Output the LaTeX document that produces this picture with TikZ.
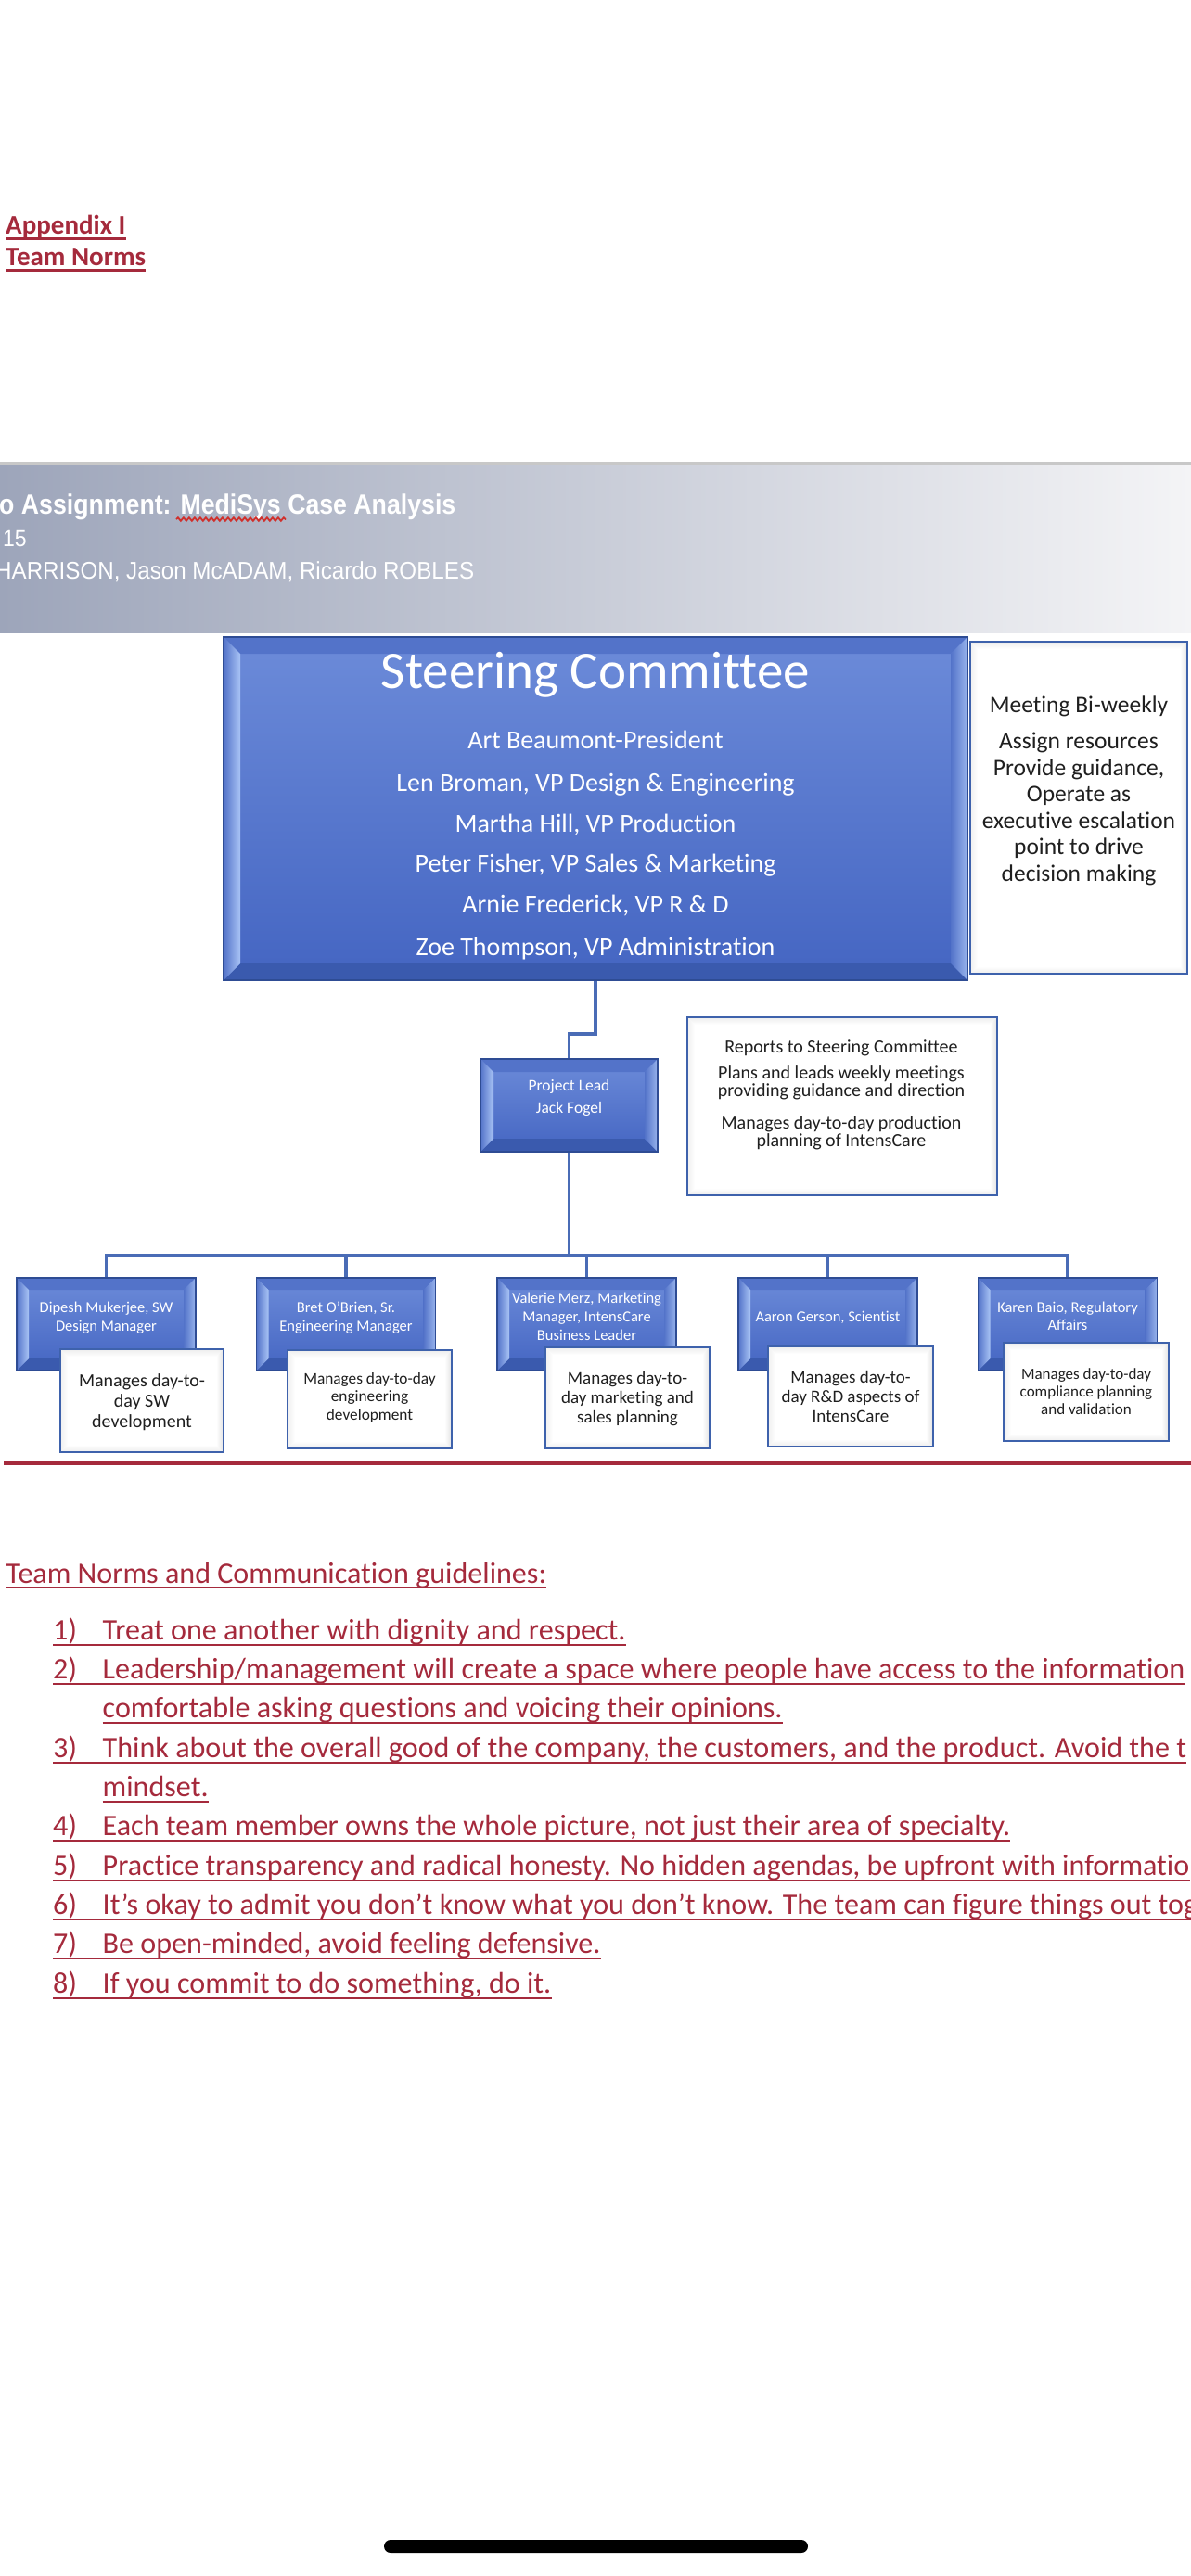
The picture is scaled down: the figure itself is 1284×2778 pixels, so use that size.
\documentclass[tikz,border=0pt]{standalone}
\usepackage{fontspec}
\setmainfont{Carlito}[Ligatures={TeX,NoCommon}]
\newfontfamily\arialf{Liberation Sans}[Ligatures={TeX,NoCommon}]
\usepackage{graphicx}
\usetikzlibrary{calc,decorations.pathmorphing}

\definecolor{dred}{HTML}{A52A3C}
\definecolor{btop}{HTML}{6C8BD9}
\definecolor{bbot}{HTML}{4465C2}
\definecolor{bdark}{HTML}{2E4C94}
\definecolor{bband}{HTML}{5373C9}
\definecolor{bbottom}{HTML}{3A5AAE}
\definecolor{bhigh}{HTML}{A9C4F5}
\definecolor{connc}{HTML}{4A6CB6}
\definecolor{wbord}{HTML}{3E62AC}
\definecolor{banl}{HTML}{9DA5BA}
\definecolor{banr}{HTML}{F4F4F6}
\definecolor{banline}{HTML}{C8C8C8}
\definecolor{wavy}{HTML}{D0302C}

\newcommand\fs[1]{\fontsize{#1pt}{#1pt}\selectfont}
\newcommand\bandpts[1]{%
  \coordinate (@nw) at (path picture bounding box.north west);
  \coordinate (@ne) at (path picture bounding box.north east);
  \coordinate (@sw) at (path picture bounding box.south west);
  \coordinate (@se) at (path picture bounding box.south east);
  \coordinate (@inw) at ($(@nw)+(#1pt,-#1pt)$);
  \coordinate (@ine) at ($(@ne)+(-#1pt,-#1pt)$);
  \coordinate (@isw) at ($(@sw)+(#1pt,#1pt)$);
  \coordinate (@ise) at ($(@se)+(-#1pt,#1pt)$);}
\newcommand\tlines[4]{\foreach \ty/\tx in {#4}{\node[anchor=base, inner sep=0pt, #2] (#1\ty) at (#3,\ty) {\tx};}}
\newcommand\normitem[4]{%
  \node[ltext] (num#1) at (57,#2) {#3};
  \node[ltext] (itm#1) at (110.5,#2) {#4};
  \draw[uline] ($(num#1.base west)+(0,6)$) -- ($(itm#1.base east)+(0,6)$);}
\newcommand\contline[3]{%
  \node[ltext] (itm#1) at (110.5,#2) {#3};
  \draw[uline] ($(itm#1.base west)+(0,6)$) -- ($(itm#1.base east)+(0,6)$);}

\tikzset{
  bevel/.style={rectangle, draw=bdark, line width=1.2pt, top color=btop, bottom color=bbot, inner sep=0pt,
    path picture={\bandpts{#1}
      \fill[bband] (@nw) -- (@ne) -- (@ine) -- (@inw) -- cycle;
      \fill[bbottom] (@sw) -- (@se) -- (@ise) -- (@isw) -- cycle;
      \shade[left color=bband, right color=bhigh] (@nw) -- (@inw) -- (@isw) -- (@sw) -- cycle;
      \shade[left color=bband, right color=bhigh!80!bband] (@ne) -- (@ine) -- (@ise) -- (@se) -- cycle;
    }},
  bevel/.default=13,
  wbox/.style={rectangle, draw=wbord, line width=2.2pt, fill=white, inner sep=0pt,
    path picture={\bandpts{#1}
      \shade[top color=gray!14, bottom color=white] (@nw) -- (@ne) -- (@ine) -- (@inw) -- cycle;
      \shade[top color=white, bottom color=gray!14] (@sw) -- (@se) -- (@ise) -- (@isw) -- cycle;
      \shade[left color=gray!12, right color=white] (@nw) -- (@inw) -- (@isw) -- (@sw) -- cycle;
      \shade[left color=white, right color=gray!22] (@ne) -- (@ine) -- (@ise) -- (@se) -- cycle;
    }},
  wbox/.default=8,
  conn/.style={draw=connc, line width=3.2pt},
  uline/.style={draw=dred, line width=2.6pt},
  wtxt/.style={text=white},
  btxt/.style={text=black!88},
  ltext/.style={anchor=base west, inner sep=0pt, text=dred, font=\fs{32.1}}
}

\begin{document}
\begin{tikzpicture}[x=1pt,y=-1pt]
\useasboundingbox (0,0) rectangle (1284,2778);
\clip (0,0) rectangle (1284,2778);
\fill[white] (0,0) rectangle (1284,2778);

% Appendix heading
\node[anchor=base west, inner sep=0pt, text=dred, font=\bfseries\fs{29}] (app) at (6,252) {Appendix I};
\draw[uline, line width=3pt] ($(app.base west)+(0,5)$) -- ($(app.base east)+(0,5)$);
\node[anchor=base west, inner sep=0pt, text=dred, font=\bfseries\fs{29}] (tnorm) at (6,286) {Team Norms};
\draw[uline, line width=3pt] ($(tnorm.base west)+(0,5)$) -- ($(tnorm.base east)+(0,5)$);

% banner
\fill[banline] (0,498) rectangle (1284,502);
\shade[left color=banl, right color=banr] (0,502) rectangle (1284,682);
\node[anchor=base west, inner sep=0pt, text=white, font=\arialf\bfseries\fs{30}] (btitle) at (-1,554) {\scalebox{0.89}[1]{o Assignment: MediSys Case Analysis}};
\draw[wavy, line width=1.8pt, decorate, decoration={snake, amplitude=1.8pt, segment length=6pt}] (190,560) -- (308,560);
\node[anchor=base west, inner sep=0pt, text=white, font=\arialf\fs{25}] (bdate) at (3,589) {\scalebox{0.92}[1]{15}};
\node[anchor=base west, inner sep=0pt, text=white, font=\arialf\fs{26}] (bnames) at (-5,624) {\scalebox{0.93}[1]{HARRISON, Jason McADAM, Ricardo ROBLES}};

% steering committee
\node[bevel=18, minimum width=802pt, minimum height=370pt] (steer) at (642,872) {};
\node[anchor=base, inner sep=0pt, wtxt, font=\fs{57}] (sttl) at (642,742) {Steering Committee};
\tlines{stl}{wtxt, font=\fs{28}}{642}{807/{Art Beaumont-President},853/{Len Broman, VP Design \& Engineering},897/{Martha Hill, VP Production},940/{Peter Fisher, VP Sales \& Marketing},984/{Arnie Frederick, VP R \& D},1030/{Zoe Thompson, VP Administration}}

\node[wbox, minimum width=234pt, minimum height=358pt] (meet) at (1163,871) {};
\tlines{mt}{btxt, font=\fs{25.5}}{1163}{768/{Meeting Bi-weekly},807/{Assign resources},836/{Provide guidance,},864/{Operate as},893/{executive escalation},921/{point to drive},950/{decision making}}

% project lead
\node[bevel=14, minimum width=191pt, minimum height=100pt] (lead) at (613.5,1192) {};
\tlines{ld}{wtxt, font=\fs{17.5}}{613.5}{1176/{Project Lead},1200/{Jack Fogel}}

\node[wbox, minimum width=334pt, minimum height=192pt] (rep) at (908,1193) {};
\tlines{rp}{btxt, font=\fs{20}}{907}{1135/{Reports to Steering Committee},1163/{Plans and leads weekly meetings},1182/{providing guidance and direction},1217/{Manages day-to-day production},1236/{planning of IntensCare}}

% managers
\foreach \m/\cx in {dip/114.5,bret/373,val/632.5,aar/892.5,kar/1151}
  \node[bevel=13, minimum width=193pt, minimum height=100pt] (\m) at (\cx,1428) {};
\tlines{dipt}{wtxt, font=\fs{16.5}}{114.5}{1415/{Dipesh Mukerjee, SW},1435/{Design Manager}}
\tlines{brett}{wtxt, font=\fs{16.5}}{373}{1415/{Bret O’Brien, Sr.},1435/{Engineering Manager}}
\tlines{valt}{wtxt, font=\fs{16.5}}{632.5}{1405/{Valerie Merz, Marketing},1425/{Manager, IntensCare},1445/{Business Leader}}
\tlines{aart}{wtxt, font=\fs{16.5}}{892.5}{1425/{Aaron Gerson, Scientist}}
\tlines{kart}{wtxt, font=\fs{16.5}}{1151}{1415/{Karen Baio, Regulatory},1434/{Affairs}}

% connectors
\coordinate (jog) at (0,1115);
\coordinate (busy) at (0,1354);
\draw[conn] (steer.south) -- (steer.south |- jog) -| (lead.north);
\draw[conn] (lead.south) -- (lead.south |- busy);
\draw[conn] (dip.north) -- (dip.north |- busy) -- (kar.north |- busy) -- (kar.north);
\foreach \m in {bret,val,aar} \draw[conn] (\m.north |- busy) -- (\m.north);

% descriptions
\node[wbox, minimum width=176pt, minimum height=111pt] (dipd) at (153,1510.5) {};
\tlines{dipdt}{btxt, font=\fs{20}}{153}{1495/{Manages day-to-},1517/{day SW},1539/{development}}
\node[wbox, minimum width=177pt, minimum height=106pt] (bretd) at (398.5,1509) {};
\tlines{bretdt}{btxt, font=\fs{17.3}}{398.5}{1492/{Manages day-to-day},1511/{engineering},1531/{development}}
\node[wbox, minimum width=177pt, minimum height=109pt] (vald) at (676.5,1507.5) {};
\tlines{valdt}{btxt, font=\fs{19}}{676.5}{1492/{Manages day-to-},1513/{day marketing and},1534/{sales planning}}
\node[wbox, minimum width=178pt, minimum height=108pt] (aard) at (917,1506) {};
\tlines{aardt}{btxt, font=\fs{19}}{917}{1491/{Manages day-to-},1512/{day R\&D aspects of},1533/{IntensCare}}
\node[wbox, minimum width=178pt, minimum height=106pt] (kard) at (1171,1501) {};
\tlines{kardt}{btxt, font=\fs{17}}{1171}{1487/{Manages day-to-day},1506/{compliance planning},1525/{and validation}}

% red rule
\draw[dred, line width=4pt] (4,1578) -- (1284,1578);

% team norms
\node[ltext] (tnh) at (6.5,1707) {Team Norms and Communication guidelines:};
\draw[uline] ($(tnh.base west)+(0,5)$) -- ($(tnh.base east)+(0,5)$);
\normitem{1}{1768}{1)}{Treat one another with dignity and respect.}
\normitem{2}{1810}{2)}{Leadership/management will create a space where people have access to the information}
\contline{2b}{1852}{comfortable asking questions and voicing their opinions.}
\normitem{3}{1895}{3)}{Think about the overall good of the company, the customers, and the product. Avoid the t}
\contline{3b}{1937}{mindset.}
\normitem{4}{1979}{4)}{Each team member owns the whole picture, not just their area of specialty.}
\normitem{5}{2022}{5)}{Practice transparency and radical honesty. No hidden agendas, be upfront with informatio}
\normitem{6}{2064}{6)}{It’s okay to admit you don’t know what you don’t know. The team can figure things out tog}
\normitem{7}{2106}{7)}{Be open-minded, avoid feeling defensive.}
\normitem{8}{2149}{8)}{If you commit to do something, do it.}

% home indicator
\fill[black, rounded corners=7pt] (414,2739) rectangle (871,2753);
\end{tikzpicture}
\end{document}
